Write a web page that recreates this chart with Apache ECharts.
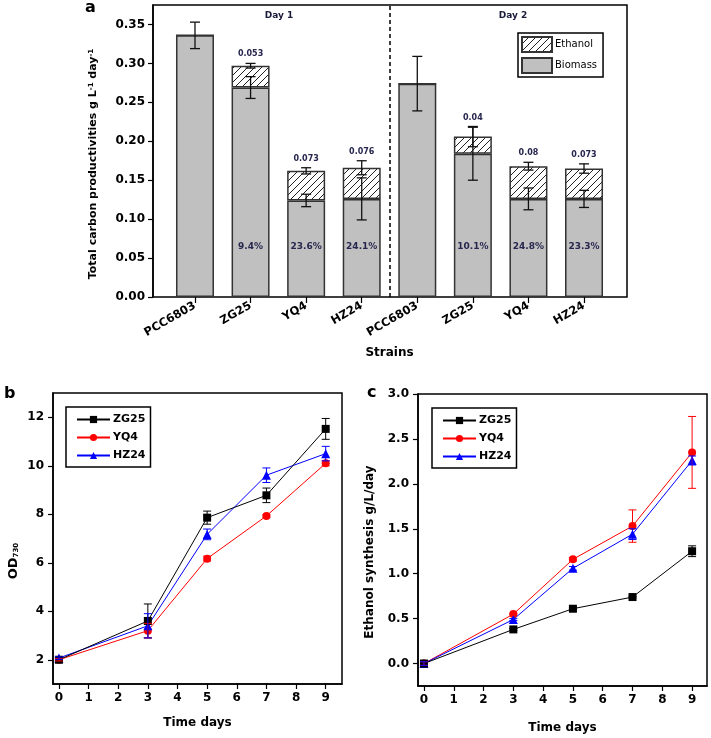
<!DOCTYPE html>
<html><head><meta charset="utf-8">
<script src="https://cdn.jsdelivr.net/npm/echarts@6/dist/echarts.min.js"></script>
<style>html,body{margin:0;padding:0;background:#fff}#c{width:711px;height:738px}</style>
</head><body><div id="c"></div>
<script>
// ---------- Panel a data ----------
const strains = ['PCC6803','ZG25','YQ4','HZ24','PCC6803','ZG25','YQ4','HZ24'];
const biomass = [0.336,0.269,0.124,0.126,0.274,0.184,0.126,0.126];
const biomassErr = [0.017,0.014,0.008,0.027,0.035,0.034,0.014,0.011];
const ethanol = [0,0.028,0.038,0.040,0,0.022,0.042,0.039];
const totalErr = [0,0.003,0.004,0.009,0,0.013,0.005,0.006];
const ethanolLabels = ['','0.053','0.073','0.076','','0.04','0.08','0.073'];
const percentLabels = ['','9.4%','23.6%','24.1%','','10.1%','24.8%','23.3%'];
const dayLabels = ['Day 1','Day 2'];
const yTicksA = [0,0.05,0.10,0.15,0.20,0.25,0.30,0.35];

// ---------- Panels b, c data ----------
const days = [0,3,5,7,9];
const xTicks = [0,1,2,3,4,5,6,7,8,9];
const yTicksB = [2,4,6,8,10,12];
const yTicksC = [0,0.5,1.0,1.5,2.0,2.5,3.0];
const odZG25 = [2.0,3.6,7.86,8.78,11.52];
const odZG25Err = [0.05,0.7,0.27,0.3,0.43];
const odYQ4 = [2.0,3.2,6.17,7.93,10.1];
const odYQ4Err = [0.05,0.3,0.1,0.05,0.1];
const odHZ24 = [2.07,3.4,7.17,9.61,10.5];
const odHZ24Err = [0.05,0.5,0.22,0.3,0.3];
const etZG25 = [0,0.38,0.61,0.74,1.25];
const etZG25Err = [0.02,0.01,0.01,0.01,0.06];
const etYQ4 = [0,0.55,1.16,1.53,2.35];
const etYQ4Err = [0.02,0.01,0.02,0.18,0.4];
const etHZ24 = [0,0.49,1.06,1.44,2.26];
const etHZ24Err = [0.02,0.01,0.02,0.06,0.05];

const FF = 'DejaVu Sans';
const chart = echarts.init(document.getElementById('c'));

// hatch pattern
const pc = document.createElement('canvas');
pc.width = 7; pc.height = 7;
const ctx = pc.getContext('2d');
ctx.fillStyle = '#fff'; ctx.fillRect(0,0,7,7);
ctx.strokeStyle = '#222'; ctx.lineWidth = 1;
ctx.beginPath();
ctx.moveTo(-1,8); ctx.lineTo(8,-1);
ctx.moveTo(-1,1); ctx.lineTo(1,-1);
ctx.moveTo(6,8); ctx.lineTo(8,6);
ctx.stroke();
const hatch = {image: pc, repeat: 'repeat'};

function errSeries(xIdx, yIdx, xs, ys, errs, color, cap, lw) {
  return {
    type:'custom', xAxisIndex:xIdx, yAxisIndex:yIdx, silent:true, z:6,
    data: xs.map((x,i)=>[x, ys[i], errs[i]]),
    renderItem(params, api){
      const x=api.value(0), y=api.value(1), e=api.value(2);
      if(!e) return null;
      const t=api.coord([x,y+e]), b=api.coord([x,y-e]);
      const st={stroke:color, lineWidth:lw};
      return {type:'group', children:[
        {type:'line', shape:{x1:t[0],y1:t[1],x2:b[0],y2:b[1]}, style:st},
        {type:'line', shape:{x1:t[0]-cap,y1:t[1],x2:t[0]+cap,y2:t[1]}, style:st},
        {type:'line', shape:{x1:b[0]-cap,y1:b[1],x2:b[0]+cap,y2:b[1]}, style:st}
      ]};
    }
  };
}

const axisLineStyle = {show:true, onZero:false, lineStyle:{color:'#000', width:1.5}};
const tickStyle = (vals)=>({show:true, inside:false, length:5, customValues: vals, lineStyle:{color:'#000', width:1.2}});
const lblStyle = {color:'#000', fontFamily:FF, fontWeight:'bold', fontSize:12};
const nameStyle = {color:'#000', fontFamily:FF, fontWeight:'bold', fontSize:12};

const totals = biomass.map((b,i)=>b+ethanol[i]);

const option = {
  animation:false,
  backgroundColor:'#fff',
  textStyle:{fontFamily:FF},
  grid:[
    {left:167.2, right:99.2, top:5, bottom:441, show:false},
    {left:153, right:84, top:5, bottom:441, show:true, borderColor:'#000', borderWidth:1.5, backgroundColor:'transparent'},
    {left:53, right:369, top:393, bottom:54, show:true, borderColor:'#000', borderWidth:1.5},
    {left:418, right:4, top:394, bottom:52, show:true, borderColor:'#000', borderWidth:1.5}
  ],
  xAxis:[
    {gridIndex:0, type:'category', data:strains,
     axisLine:{show:false, onZero:false}, axisTick:{show:true, length:6, alignWithLabel:true, lineStyle:{color:'#000', width:1.2}},
     axisLabel:{...lblStyle, fontSize:11.5, rotate:30, margin:8, interval:0},
     name:'Strains', nameLocation:'middle', nameGap:50, nameTextStyle:nameStyle},
    {gridIndex:1, type:'value', min:-0.75, max:7.75, show:false, axisLine:{onZero:false}},
    {gridIndex:2, type:'value', min:-0.2, max:9.55,
     axisLine:axisLineStyle, axisTick:tickStyle(xTicks),
     axisLabel:{...lblStyle, customValues:xTicks, margin:8}, splitLine:{show:false},
     name:'Time days', nameLocation:'middle', nameGap:33, nameTextStyle:nameStyle},
    {gridIndex:3, type:'value', min:-0.2, max:9.5,
     axisLine:axisLineStyle, axisTick:tickStyle(xTicks),
     axisLabel:{...lblStyle, customValues:xTicks, margin:8}, splitLine:{show:false},
     name:'Time days', nameLocation:'middle', nameGap:36, nameTextStyle:nameStyle}
  ],
  yAxis:[
    {gridIndex:0, type:'value', min:0, max:0.375, show:false, axisLine:{onZero:false}},
    {gridIndex:1, type:'value', min:0, max:0.375,
     axisLine:axisLineStyle, axisTick:tickStyle(yTicksA),
     axisLabel:{...lblStyle, customValues:yTicksA, margin:8, formatter:v=>v.toFixed(2)}, splitLine:{show:false},
     name:'Total carbon productivities g L{sup|-1} day{sup|-1}', nameLocation:'middle', nameGap:54,
     nameTextStyle:{...nameStyle, fontSize:11, padding:[0,26,0,0], rich:{sup:{fontSize:7, fontWeight:'bold', fontFamily:FF, verticalAlign:'top'}}}},
    {gridIndex:2, type:'value', min:1, max:13,
     axisLine:axisLineStyle, axisTick:tickStyle(yTicksB),
     axisLabel:{...lblStyle, customValues:yTicksB, margin:9}, splitLine:{show:false},
     name:'OD{sub|730}', nameLocation:'middle', nameGap:33,
     nameTextStyle:{...nameStyle, fontSize:13, padding:[0,45,0,0], rich:{sub:{fontSize:7, fontWeight:'bold', fontFamily:FF, verticalAlign:'bottom'}}}},
    {gridIndex:3, type:'value', min:-0.25, max:3.0,
     axisLine:axisLineStyle, axisTick:tickStyle(yTicksC),
     axisLabel:{...lblStyle, customValues:yTicksC, margin:9, formatter:v=>v.toFixed(1)}, splitLine:{show:false},
     name:'Ethanol synthesis g/L/day', nameLocation:'middle', nameGap:42,
     nameTextStyle:{...nameStyle, padding:[0,24,0,0]}}
  ],
  legend:[
    {data:['Ethanol','Biomass'], orient:'vertical', left:518, top:33, icon:'rect',
     itemWidth:30, itemHeight:15, itemGap:4, padding:[3,6,3,3],
     borderColor:'#000', borderWidth:1.5, selectedMode:false,
     textStyle:{fontFamily:FF, fontSize:10, color:'#000', padding:[0,0,0,-2]}},
    {data:['ZG25','YQ4','HZ24'], orient:'vertical', left:66, top:407,
     itemWidth:33, itemHeight:9, itemGap:7, padding:[7,5,6,10],
     borderColor:'#000', borderWidth:1.5, selectedMode:false,
     textStyle:{fontFamily:FF, fontSize:11, fontWeight:'bold', color:'#000', padding:[0,0,0,-2]}},
    {data:['ZG25','YQ4','HZ24'], orient:'vertical', left:432, top:408,
     itemWidth:33, itemHeight:9, itemGap:7, padding:[7,5,6,10],
     borderColor:'#000', borderWidth:1.5, selectedMode:false,
     textStyle:{fontFamily:FF, fontSize:11, fontWeight:'bold', color:'#000', padding:[0,0,0,-2]}}
  ],
  graphic:[
    {type:'text', x:85, y:16, style:{text:'a', textVerticalAlign:'bottom', font:'bold 16px "DejaVu Sans"', fill:'#000'}},
    {type:'text', x:4, y:402, style:{text:'b', textVerticalAlign:'bottom', font:'bold 16px "DejaVu Sans"', fill:'#000'}},
    {type:'text', x:367, y:401, style:{text:'c', textVerticalAlign:'bottom', font:'bold 16px "DejaVu Sans"', fill:'#000'}},
    {type:'text', x:279, y:16, style:{text:dayLabels[0], textAlign:'center', textVerticalAlign:'middle', font:'bold 9px "DejaVu Sans"', fill:'#1a1a3a'}},
    {type:'text', x:513, y:16, style:{text:dayLabels[1], textAlign:'center', textVerticalAlign:'middle', font:'bold 9px "DejaVu Sans"', fill:'#1a1a3a'}}
  ],
  series:[
    {name:'Biomass', type:'bar', xAxisIndex:0, yAxisIndex:0, stack:'tot', barWidth:38,
     data:biomass,
     itemStyle:{color:'#c0c0c0', borderColor:'#333', borderWidth:1.5},
     label:{show:true, position:'insideBottom', distance:46, formatter:p=>percentLabels[p.dataIndex],
            color:'#26264e', fontFamily:FF, fontWeight:'bold', fontSize:9}},
    {name:'Ethanol', type:'bar', xAxisIndex:0, yAxisIndex:0, stack:'tot', barWidth:38,
     data:ethanol,
     itemStyle:{color:hatch, borderColor:'#333', borderWidth:1.5}},
    errSeries(0,0, strains.map((s,i)=>i), biomass, biomassErr, '#111', 5, 1.3),
    errSeries(0,0, strains.map((s,i)=>i), totals, totalErr, '#111', 5, 1.3),
    {type:'custom', xAxisIndex:0, yAxisIndex:0, silent:true, z:7,
     data: strains.map((s,i)=>[i, totals[i]+totalErr[i], i]),
     renderItem(params, api){
       const i = api.value(2);
       const txt = ethanolLabels[i];
       if(!txt) return null;
       const p = api.coord([api.value(0), api.value(1)]);
       return {type:'text', x:p[0], y:p[1]-5,
         style:{text:txt, textAlign:'center', textVerticalAlign:'bottom',
                font:'bold 8px "DejaVu Sans"', fill:'#26264e'}};
     }},
    {name:'divider', type:'line', xAxisIndex:1, yAxisIndex:1, data:[], silent:true,
     markLine:{silent:true, symbol:'none', label:{show:false},
       lineStyle:{color:'#000', width:1.5, type:[4,3]},
       data:[{xAxis:3.5}]}},
    // Panel b
    {name:'ZG25', type:'line', xAxisIndex:2, yAxisIndex:2, data:days.map((d,i)=>[d,odZG25[i]]),
     symbol:'rect', symbolSize:8, color:'#000', lineStyle:{width:1, color:'#000'}, z:4},
    {name:'YQ4', type:'line', xAxisIndex:2, yAxisIndex:2, data:days.map((d,i)=>[d,odYQ4[i]]),
     symbol:'circle', symbolSize:8, color:'#ff0000', lineStyle:{width:1, color:'#ff0000'}, z:3},
    {name:'HZ24', type:'line', xAxisIndex:2, yAxisIndex:2, data:days.map((d,i)=>[d,odHZ24[i]]),
     symbol:'triangle', symbolSize:9, color:'#0000ff', lineStyle:{width:1, color:'#0000ff'}, z:3},
    errSeries(2,2, days, odZG25, odZG25Err, '#000', 4, 1),
    errSeries(2,2, days, odYQ4, odYQ4Err, '#ff0000', 4, 1),
    errSeries(2,2, days, odHZ24, odHZ24Err, '#0000ff', 4, 1),
    // Panel c
    {name:'ZG25', type:'line', xAxisIndex:3, yAxisIndex:3, data:days.map((d,i)=>[d,etZG25[i]]),
     symbol:'rect', symbolSize:8, color:'#000', lineStyle:{width:1, color:'#000'}, z:4},
    {name:'YQ4', type:'line', xAxisIndex:3, yAxisIndex:3, data:days.map((d,i)=>[d,etYQ4[i]]),
     symbol:'circle', symbolSize:8, color:'#ff0000', lineStyle:{width:1, color:'#ff0000'}, z:3},
    {name:'HZ24', type:'line', xAxisIndex:3, yAxisIndex:3, data:days.map((d,i)=>[d,etHZ24[i]]),
     symbol:'triangle', symbolSize:9, color:'#0000ff', lineStyle:{width:1, color:'#0000ff'}, z:3},
    errSeries(3,3, days, etZG25, etZG25Err, '#000', 4, 1),
    errSeries(3,3, days, etYQ4, etYQ4Err, '#ff0000', 4, 1),
    errSeries(3,3, days, etHZ24, etHZ24Err, '#0000ff', 4, 1)
  ]
};
chart.setOption(option);
</script></body></html>
